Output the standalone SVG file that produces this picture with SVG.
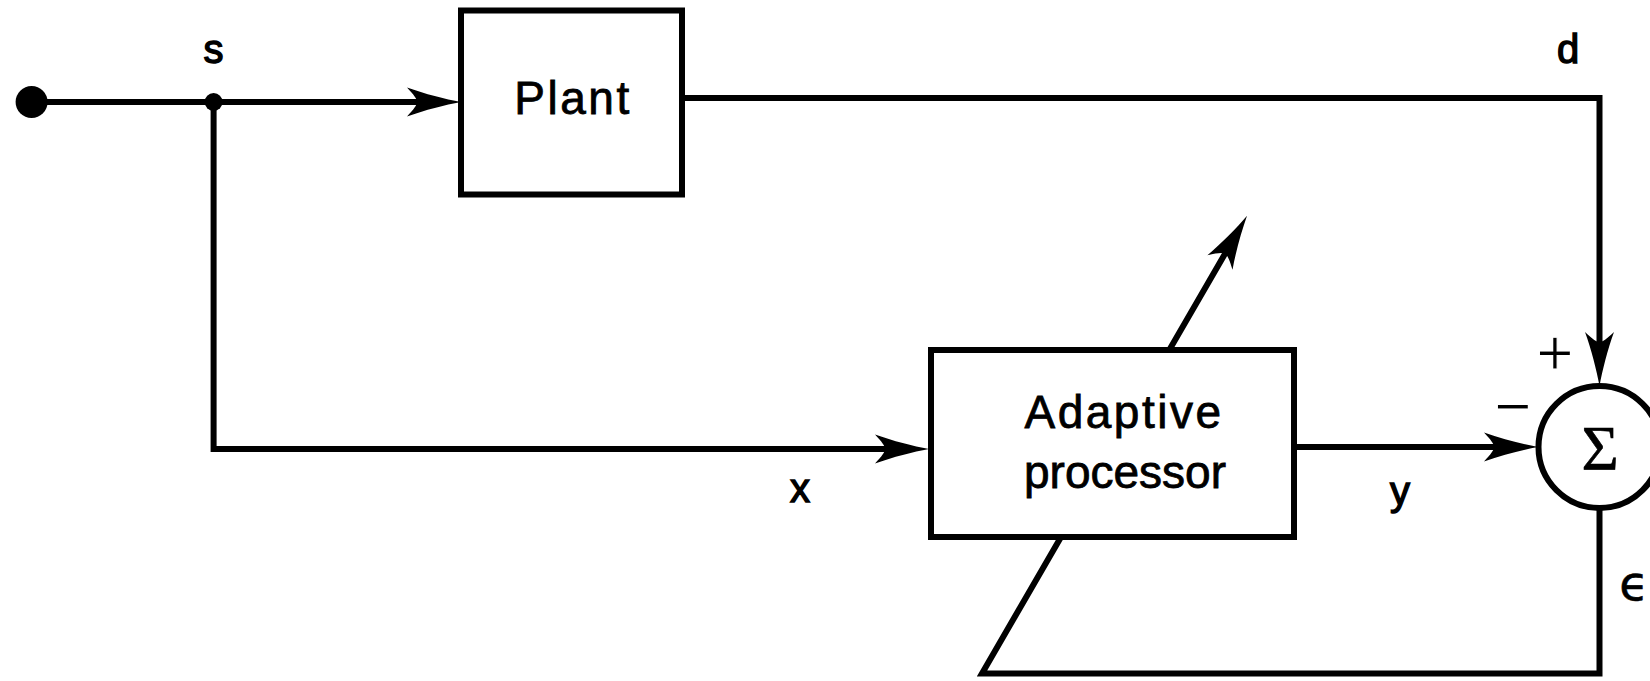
<svg xmlns="http://www.w3.org/2000/svg" width="1650" height="681" viewBox="0 0 1650 681">
  <style>
    .wire { fill: none; stroke: #000; stroke-width: 6; stroke-linejoin: miter; stroke-linecap: butt; }
    .box { fill: #fff; stroke: #000; stroke-width: 6; }
    .lbl { font-family: "Liberation Sans", "DejaVu Sans", Arial, sans-serif; fill: #000; text-anchor: middle; stroke: #000; stroke-width: 0.8px; }
    .big { font-size: 46px; letter-spacing: 2.5px; }
    .sig { font-size: 40px; stroke-width: 1.4px; }
    /* slightly thinned plus/minus signs */
    .sign { font-size: 64px; stroke: #fff; stroke-width: 1.2px; }
    .eps { font-family: "DejaVu Sans", "Liberation Sans", sans-serif; font-size: 48px; fill: #000; text-anchor: middle; stroke: #000; stroke-width: 0.6px; }
    .sigma { font-family: "Liberation Serif", "DejaVu Serif", serif; font-size: 64px; fill: #000; text-anchor: middle; stroke: #000; stroke-width: 0.6px; }
  </style>
  <defs>
    <!-- barbed arrowhead; the wire stops 32px behind the tip -->
    <marker id="arrow" viewBox="-58 -17 60 34" refX="-32" refY="0" markerWidth="60" markerHeight="34" orient="auto" markerUnits="userSpaceOnUse">
      <path d="M0,0 C-16,-3 -36,-8 -54,-14.5 C-47,-7 -44,-3 -44,0 C-44,3 -47,7 -54,14.5 C-36,8 -16,3 0,0 Z" fill="#000"/>
    </marker>
  </defs>

  <rect width="1650" height="681" fill="#fff"/>

  <g id="connectors">
    <!-- input s to plant -->
    <path class="wire" d="M32 102 H429" marker-end="url(#arrow)"/>
    <!-- plant output d down to summer -->
    <path class="wire" d="M682 98 H1599.5 V354" marker-end="url(#arrow)"/>
    <!-- x branch to adaptive processor -->
    <path class="wire" d="M213.6 102 V449 H897" marker-end="url(#arrow)"/>
    <!-- y to summer -->
    <path class="wire" d="M1294 447 H1506" marker-end="url(#arrow)"/>
    <!-- error feedback, slanted through the processor -->
    <path class="wire" d="M1599.5 508 V673.5 H982 L1231 243.4" marker-end="url(#arrow)"/>
  </g>

  <g id="source">
    <circle cx="31.6" cy="102" r="16" fill="#000"/>
  </g>
  <g id="junction">
    <circle cx="213.6" cy="102" r="9" fill="#000"/>
    <text class="lbl sig" x="213.6" y="63">s</text>
  </g>

  <g id="plant">
    <rect class="box" x="461" y="10.5" width="221" height="184"/>
    <text class="lbl big" x="573" y="114">Plant</text>
  </g>

  <g id="adaptive-processor">
    <rect class="box" x="931" y="350" width="363" height="187"/>
    <text class="lbl big" x="1124" y="428">Adaptive</text>
    <text class="lbl" style="font-size:46px" x="1125" y="488">processor</text>
  </g>

  <g id="summer">
    <circle class="box" cx="1599.5" cy="447" r="61"/>
    <text class="sigma" x="1600" y="470">Σ</text>
    <text class="lbl sign" x="1555" y="375">+</text>
    <text class="lbl sign" x="1513" y="428">−</text>
  </g>

  <g id="labels">
    <text class="lbl sig" x="1568" y="63">d</text>
    <text class="lbl sig" x="800" y="502">x</text>
    <text class="lbl sig" x="1400" y="505">y</text>
    <text class="eps" x="1634" y="600">ϵ</text>
  </g>
</svg>
